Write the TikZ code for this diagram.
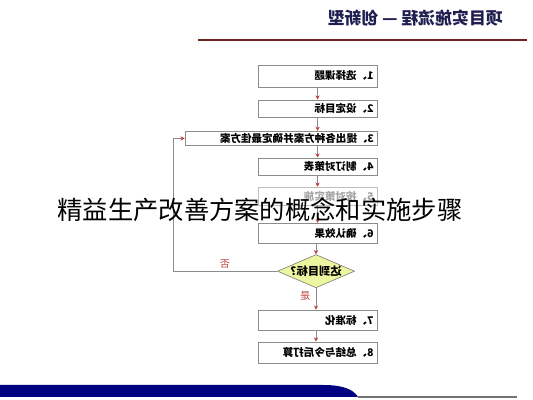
\documentclass[tikz,border=0pt]{standalone}
\usepackage{fontspec}
\newfontfamily\cjk{Noto Sans CJK SC}
\usetikzlibrary{arrows.meta,shapes.geometric}
\definecolor{navybar}{RGB}{0,0,128}
\definecolor{tipred}{RGB}{190,60,60}
\definecolor{titleblue}{RGB}{30,30,80}
\definecolor{stepfill}{RGB}{236,245,160}
\begin{document}
\begin{tikzpicture}[
  stepbox/.style={draw=black!45,fill=white,minimum width=2.975cm,text width=2.8cm,align=right,inner sep=1pt,font=\cjk\bfseries\fontsize{7.5}{8}\selectfont},
  decide/.style={diamond,draw=black!55,fill=stepfill,aspect=2.3,minimum width=1.93cm,minimum height=0.83cm,inner sep=0pt,font=\cjk\bfseries\fontsize{8}{9}\selectfont},
  flow/.style={draw=black!45,-{Stealth[length=3pt,width=3pt,color=tipred]}},
  answer/.style={text=tipred,font=\cjk\fontsize{7}{8}\selectfont}]
\useasboundingbox (0,0) rectangle (13.325,-10);
% title and lines
\node[text=titleblue,font=\cjk\bfseries\fontsize{12}{13}\selectfont] (title) at (10.38,-0.46) {\reflectbox{项目实施流程 — 创新型}};
\draw [line width=1pt,color={rgb,255:red,110;green,35;blue,35}] (4.95,-1.0) -- (13.175,-1.0);
\fill [navybar] (0,-9.625) -- (8.08,-9.625) .. controls (8.6,-9.625) and (8.85,-9.75) .. (8.95,-9.925) -- (0,-9.925) -- cycle;
\draw [black!55,line width=0.8pt] (8.95,-9.925) -- (12.925,-9.925);
% steps
\node[stepbox,minimum height=0.55cm] (s1) at (7.94,-1.9) {\reflectbox{1、选择课题}};
\node[stepbox,minimum height=0.43cm] (s2) at (7.94,-2.71) {\reflectbox{2、设定目标}};
\node[stepbox,minimum width=4.8cm,text width=4.65cm,minimum height=0.36cm] (s3) at (7.025,-3.46) {\reflectbox{3、提出各种方案并确定最佳方案}};
\node[stepbox,minimum height=0.43cm] (s4) at (7.94,-4.16) {\reflectbox{4、制订对策表}};
\node[stepbox,minimum height=0.45cm,text=black!35,draw=black!25] (s5) at (7.94,-4.9) {\reflectbox{5、按对策实施}};
\node[stepbox,minimum height=0.5cm] (s6) at (7.94,-5.83) {\reflectbox{6、确认效果}};
\node[decide] (goal) at (7.9,-6.78) {\reflectbox{达到目标?}};
\node[stepbox,minimum height=0.5cm] (s7) at (7.94,-8.0) {\reflectbox{7、标准化}};
\node[stepbox,minimum height=0.53cm] (s8) at (7.94,-8.81) {\reflectbox{8、总结与今后打算}};
\coordinate (back1) at (4.325,-6.78);
\coordinate (back2) at (4.325,-3.46);
% connectors
\draw [flow] (s1) -- (s2);
\draw [flow] (s2) -- (s2 |- s3.north);
\draw [flow] (s2 |- s3.south) -- (s4);
\draw [flow] (s4) -- (s5);
\draw [flow] (s5) -- (s6);
\draw [flow] (s6.south -| goal) -- (goal);
\draw [flow] (goal) -- (goal |- s7.north);
\draw [flow] (s7.south -| goal) -- (goal |- s8.north);
\draw [flow] (goal.west) -- (back1) -- (back2) -- (s3.west);
\node[answer] (no) at (5.625,-6.6) {\reflectbox{否}};
\node[answer] (yes) at (7.63,-7.4) {\reflectbox{是}};
% overlay caption
\node[font=\cjk\fontsize{18}{20}\selectfont] (caption) at (6.5,-5.25) {精益生产改善方案的概念和实施步骤};
\end{tikzpicture}
\end{document}
